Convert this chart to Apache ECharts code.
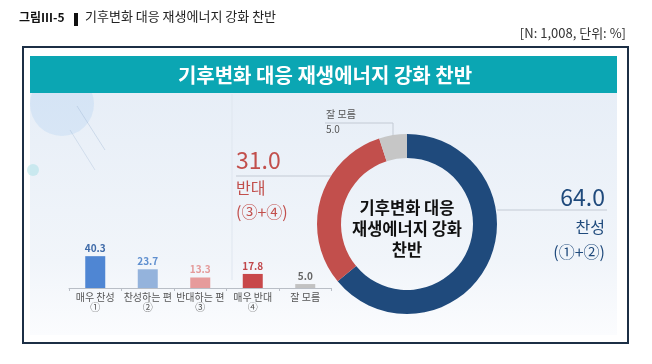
<!DOCTYPE html>
<html><head><meta charset="utf-8">
<script src="https://cdn.jsdelivr.net/npm/echarts@6/dist/echarts.min.js"></script>
<style>html,body{margin:0;padding:0;background:#fff}#c{width:652px;height:364px}</style>
</head><body><div id="c"></div>
<script>
const FONT = 'Noto Sans CJK KR';
// ---- data ----
const figureTitle = '기후변화 대응 재생에너지 강화 찬반';
const figureNote = '[N: 1,008, 단위: %]';
const donutNames = ['찬성', '반대', '잘 모름'];
const donutGroups = ['(①+②)', '(③+④)', ''];
const donutValues = [64.0, 31.0, 5.0];
const barCategories = ['매우 찬성\n①', '찬성하는 편\n②', '반대하는 편\n③', '매우 반대\n④', '잘 모름'];
const barValues = [40.3, 23.7, 13.3, 17.8, 5.0];

const barColors = ['#4f86d3', '#94b3dc', '#e69b9b', '#c8484a', '#c2c2c2'];
const barLabelColors = ['#3e6aa8', '#5f8fcf', '#e49a9a', '#c0464a', '#666666'];
const donutColors = ['#1f4a7c', '#c24f4c', '#c6c6c6'];

const chart = echarts.init(document.getElementById('c'), null, {renderer: 'canvas'});

const labelPos = [
  {x: 605, y: 180, align: 'right', pts: [[497, 210], [550, 210], [607, 210]]},
  {x: 236, y: 144, align: 'left', pts: [[331, 176], [280, 176], [236, 176]]},
  {x: 326, y: 107, align: 'left', pts: [[393, 137], [393, 123], [325, 123]]}
];

chart.setOption({
  animation: false,
  graphic: [
    {type: 'text', left: 19, top: 11, z: 10, style: {text: '그림Ⅲ-5', font: 'bold 12px ' + FONT, fill: '#111'}},
    {type: 'rect', shape: {x: 74, y: 13, width: 4, height: 13}, style: {fill: '#111'}, z: 10},
    {type: 'text', left: 85, top: 10, z: 10, style: {text: figureTitle, font: '13px ' + FONT, fill: '#222'}},
    {type: 'text', right: 26, top: 27, z: 10, style: {text: figureNote, font: '13px ' + FONT, fill: '#333', align: 'right'}},
    {type: 'rect', z: -10, shape: {x: 23, y: 47, width: 605, height: 296},
      style: {fill: '#fff', stroke: '#1c2f45', lineWidth: 2}},
    {type: 'rect', z: -9, shape: {x: 30, y: 92, width: 587, height: 243},
      style: {fill: new echarts.graphic.LinearGradient(0, 0, 0, 1, [
        {offset: 0, color: '#e7eef7'}, {offset: 0.7, color: '#f1f5fa'}, {offset: 1, color: '#fbfcfe'}])}},
    {type: 'circle', z: -8, shape: {cx: 62, cy: 104, r: 32}, style: {fill: 'rgba(170,205,240,0.28)'}},
    {type: 'circle', z: -8, shape: {cx: 33, cy: 170, r: 6}, style: {fill: 'rgba(150,220,225,0.4)'}},
    {type: 'line', z: -8, shape: {x1: 77, y1: 106, x2: 105, y2: 150}, style: {stroke: 'rgba(150,175,205,0.35)', lineWidth: 1}},
    {type: 'line', z: -8, shape: {x1: 70, y1: 130, x2: 95, y2: 170}, style: {stroke: 'rgba(150,175,205,0.3)', lineWidth: 1}},
    {type: 'line', z: -8, shape: {x1: 232, y1: 94, x2: 232, y2: 280}, style: {stroke: '#dfe6ef', lineWidth: 1}},
    {type: 'rect', z: -7, shape: {x: 30, y: 56, width: 587, height: 37}, style: {fill: '#0ba6b3'}},
    {type: 'text', z: 10, x: 325, y: 75, style: {text: figureTitle, font: 'bold 20px ' + FONT, fill: '#fff', align: 'center', verticalAlign: 'middle'}},
    {type: 'text', z: 10, x: 407, y: 229, style: {text: '기후변화 대응\n재생에너지 강화\n찬반', font: 'bold 16.5px ' + FONT, lineHeight: 21, fill: '#111', align: 'center', verticalAlign: 'middle'}}
  ],
  grid: {left: 69, width: 262.5, top: 248.5, height: 39.5, containLabel: false},
  xAxis: {
    type: 'category', data: barCategories,
    axisLine: {lineStyle: {color: '#b9bec6'}},
    axisTick: {show: true, length: 3, lineStyle: {color: '#b9bec6'}},
    axisLabel: {interval: 0, margin: 4, fontSize: 10, lineHeight: 10, color: '#555', fontFamily: FONT}
  },
  yAxis: {type: 'value', min: 0, max: 50, show: false, splitLine: {show: false}},
  series: [
    {
      type: 'bar', barWidth: 20,
      data: barValues.map((v, i) => ({value: v, itemStyle: {color: barColors[i]},
        label: {color: barLabelColors[i]}})),
      label: {show: true, position: 'top', distance: 3, fontSize: 10, fontWeight: 'bold', fontFamily: FONT,
        formatter: p => p.value.toFixed(1)}
    },
    {
      type: 'pie', center: [407, 224], radius: [66, 90], startAngle: 90, clockwise: true,
      silent: true,
      data: donutNames.map((n, i) => ({name: n, value: donutValues[i], itemStyle: {color: donutColors[i]}})),
      label: {
        show: true, fontFamily: FONT,
        formatter: p => {
          const i = p.dataIndex;
          if (i === 2) return `{s|${p.name}}\n{s|${p.value.toFixed(1)}}`;
          return `{v${i}|${p.value.toFixed(1)}}\n{n${i}|${p.name}}\n{n${i}|${donutGroups[i]}}`;
        },
        rich: {
          v0: {fontSize: 23, lineHeight: 34, color: '#1f4a7c', fontFamily: FONT, align: 'right'},
          n0: {fontSize: 16, lineHeight: 25, color: '#1f4a7c', fontFamily: FONT, align: 'right'},
          v1: {fontSize: 23, lineHeight: 32, color: '#c24f4c', fontFamily: FONT, align: 'left'},
          n1: {fontSize: 16, lineHeight: 24, color: '#c24f4c', fontFamily: FONT, align: 'left'},
          s: {fontSize: 10, lineHeight: 15, color: '#555', fontFamily: FONT, align: 'left'}
        }
      },
      labelLine: {show: true, lineStyle: {color: '#c3cad4', width: 1}},
      labelLayout: p => {
        const L = labelPos[p.dataIndex];
        return {x: L.x, y: L.y, align: L.align, verticalAlign: 'top', labelLinePoints: L.pts};
      }
    }
  ]
});
</script></body></html>
